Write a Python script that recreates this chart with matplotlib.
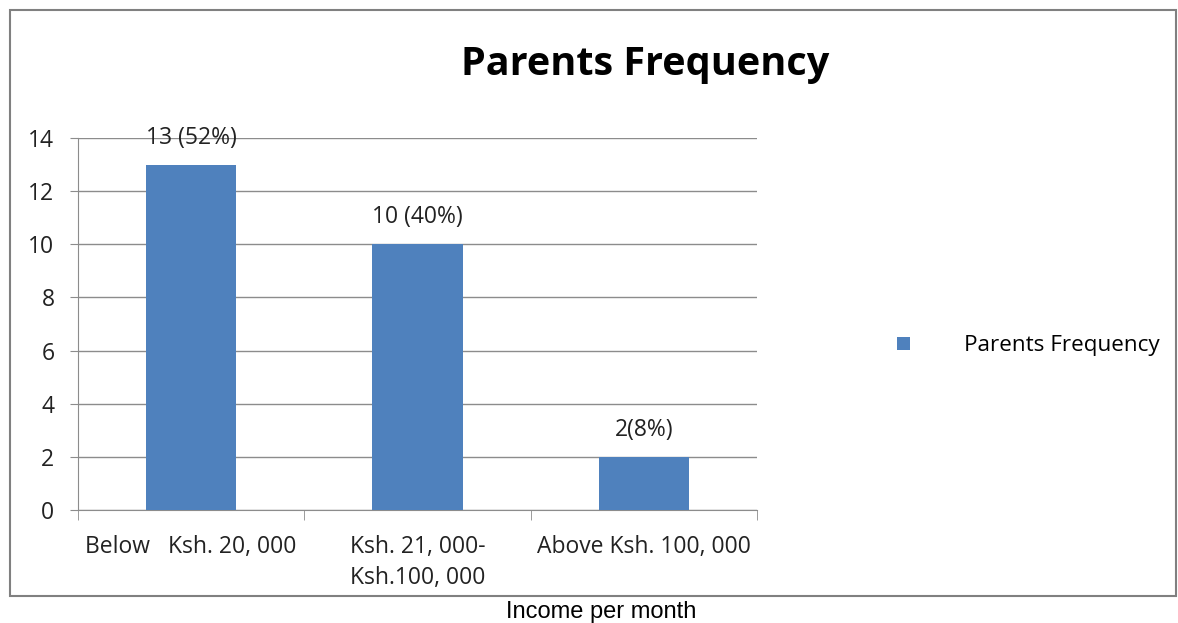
import matplotlib.pyplot as plt
from matplotlib.patches import Rectangle

categories = ['Below   Ksh. 20, 000', 'Ksh. 21, 000-\nKsh.100, 000', 'Above Ksh. 100, 000']
freq = [13, 10, 2]
bar_labels = ['13 (52%)', '10 (40%)', '2(8%)']

plt.rcParams['font.family'] = ['Open Sans', 'DejaVu Sans']

fig = plt.figure(figsize=(11.78, 6.23), dpi=100)
ax = fig.add_axes([78/1178, 1-510/623, (757-78)/1178, (510-138)/623])

x = range(len(categories))
bars = ax.bar(x, freq, width=0.4, color='#4F81BD', zorder=3, label='Parents Frequency')

for xi, v, lab in zip(x, freq, bar_labels):
    ax.annotate(lab, (xi, v), xytext=(0, 27), textcoords='offset pixels',
                ha='center', va='center', fontsize=16.5, color='#222222', zorder=4)

ax.set_xlim(-0.5, 2.5)
ax.set_ylim(0, 14)
ax.set_yticks(range(0, 15, 2))
ax.yaxis.grid(True, color='#8c8c8c', linewidth=1, zorder=0)
ax.set_xticks(list(x))
ax.set_xticklabels(categories, fontsize=16.5, color='#222222', linespacing=1.4)
ax.set_xticks([-0.5, 0.5, 1.5, 2.5], minor=True)
ax.tick_params(axis='x', which='major', length=0, pad=18)
ax.tick_params(axis='x', which='minor', length=7, color='#8c8c8c')
ax.tick_params(axis='y', length=6, color='#8c8c8c', labelsize=16.5, labelcolor='#222222', pad=11)
for s in ['top', 'right']:
    ax.spines[s].set_visible(False)
for s in ['left', 'bottom']:
    ax.spines[s].set_color('#8c8c8c')

fig.text(645/1178, 1-65/623, 'Parents Frequency', ha='center', va='center',
         fontsize=28.5, fontweight='bold')

fig.legend(handles=[bars], loc='center left', bbox_to_anchor=(877/1178, 1-346/623),
           frameon=False, fontsize=16.2, handlelength=0.55, handleheight=0.55,
           handletextpad=2.4)

fig.add_artist(Rectangle((10/1178, 1-596/623), 1166/1178, 586/623, transform=fig.transFigure,
                         fill=False, edgecolor='#808080', linewidth=1.5))

fig.text(601/1178, 1-612/623, 'Income per month', ha='center', va='center',
         fontsize=17, family='Liberation Sans')

fig.savefig('out.png', dpi=100)
